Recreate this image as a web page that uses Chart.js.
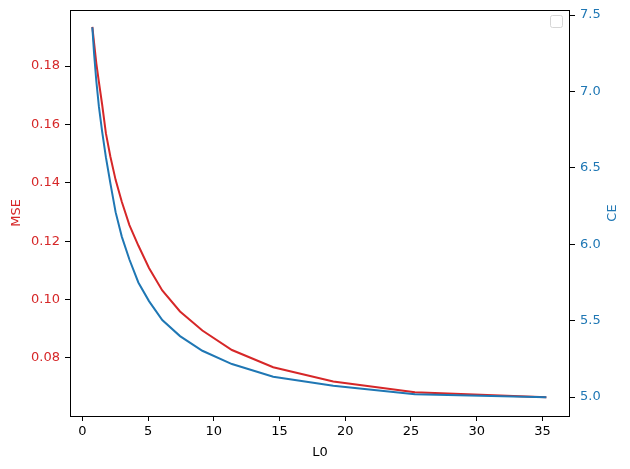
<!DOCTYPE html>
<html>
<head>
<meta charset="utf-8">
<script src="https://cdn.jsdelivr.net/npm/chart.js@4/dist/chart.umd.min.js"></script>
<style>
  html, body { margin: 0; padding: 0; background: #fff; }
  #wrap { width: 630px; height: 469px; position: relative; }
</style>
</head>
<body>
<div id="wrap"><canvas id="c" width="630" height="469"></canvas></div>
<script>
// ---- data ----
const l0Values = [0.76, 0.89, 1.06, 1.26, 1.5, 1.79, 2.13, 2.53, 3.0, 3.58, 4.26, 5.07, 6.08, 7.43, 9.13, 11.38, 14.52, 19.09, 25.3, 35.3];
const mseValues = [0.1934, 0.188, 0.181, 0.1745, 0.167, 0.157, 0.149, 0.141, 0.1335, 0.1255, 0.1185, 0.1108, 0.1031, 0.0959, 0.0894, 0.0827, 0.0768, 0.0719, 0.0682, 0.0665];
const ceValues = [7.42, 7.25, 7.07, 6.90, 6.74, 6.57, 6.40, 6.21, 6.05, 5.90, 5.75, 5.628, 5.504, 5.399, 5.303, 5.216, 5.133, 5.074, 5.018, 4.998];

const xTicks = [0, 5, 10, 15, 20, 25, 30, 35];
const mseTicks = [0.08, 0.10, 0.12, 0.14, 0.16, 0.18];
const ceTicks = [5.0, 5.5, 6.0, 6.5, 7.0, 7.5];

const RED = '#d62728';
const BLUE = '#1f77b4';
const FONT = 'DejaVu Sans';

const msePoints = l0Values.map((x, i) => ({ x: x, y: mseValues[i] }));
const cePoints = l0Values.map((x, i) => ({ x: x, y: ceValues[i] }));

const frame = {
  id: 'frame',
  afterDatasetsDraw(chart) {
    const a = chart.chartArea;
    const ctx = chart.ctx;
    ctx.save();
    ctx.strokeStyle = '#000';
    ctx.lineWidth = 1;
    ctx.strokeRect(Math.round(a.left) + 0.5, Math.round(a.top) + 0.5,
                   Math.round(a.right - a.left) - 1, Math.round(a.bottom - a.top));
    // empty legend frame (matplotlib empty legend)
    const x = a.right - 19.5, y = a.top + 5.5, w = 12, h = 12, r = 2;
    ctx.beginPath();
    ctx.moveTo(x + r, y);
    ctx.lineTo(x + w - r, y); ctx.quadraticCurveTo(x + w, y, x + w, y + r);
    ctx.lineTo(x + w, y + h - r); ctx.quadraticCurveTo(x + w, y + h, x + w - r, y + h);
    ctx.lineTo(x + r, y + h); ctx.quadraticCurveTo(x, y + h, x, y + h - r);
    ctx.lineTo(x, y + r); ctx.quadraticCurveTo(x, y, x + r, y);
    ctx.closePath();
    ctx.fillStyle = 'rgba(255,255,255,0.8)';
    ctx.fill();
    ctx.strokeStyle = '#d6d6d6';
    ctx.stroke();
    // right axis title, rotated like matplotlib (reads bottom to top)
    ctx.translate(613, (a.top + a.bottom) / 2);
    ctx.rotate(-Math.PI / 2);
    ctx.fillStyle = BLUE;
    ctx.font = '13px "' + FONT + '"';
    ctx.textAlign = 'center';
    ctx.textBaseline = 'middle';
    ctx.fillText('CE', 0, 0);
    ctx.restore();
  }
};

function fixedTicks(arr) {
  return function (scale) { scale.ticks = arr.map(v => ({ value: v })); };
}

new Chart(document.getElementById('c'), {
  type: 'line',
  data: {
    datasets: [
      { label: 'MSE', data: msePoints, yAxisID: 'y', borderColor: RED, backgroundColor: RED,
        borderWidth: 2, pointRadius: 0, tension: 0, fill: false, order: 2 },
      { label: 'CE', data: cePoints, yAxisID: 'y1', borderColor: BLUE, backgroundColor: BLUE,
        borderWidth: 2, pointRadius: 0, tension: 0, fill: false, order: 1 }
    ]
  },
  options: {
    responsive: false,
    animation: false,
    devicePixelRatio: 1,
    layout: { padding: { top: 10, left: 0, right: 0, bottom: 0 } },
    plugins: { legend: { display: false }, tooltip: { enabled: false } },
    scales: {
      x: {
        type: 'linear', position: 'bottom', min: -0.94, max: 37.1,
        afterBuildTicks: fixedTicks(xTicks),
        afterFit(s) { s.height = 53; s.paddingLeft = 0; s.paddingRight = 0; },
        grid: { display: true, drawOnChartArea: false, drawTicks: true, tickLength: 5, tickColor: '#000', tickWidth: 1 },
        border: { display: false },
        ticks: { color: '#000', font: { family: FONT, size: 13 }, padding: 3, maxRotation: 0,
                 callback: v => String(v) },
        title: { display: true, text: 'L0', color: '#000', font: { family: FONT, size: 13 },
                 padding: { top: 0, bottom: 9 } }
      },
      y: {
        type: 'linear', position: 'left', min: 0.0601, max: 0.1992,
        afterBuildTicks: fixedTicks(mseTicks),
        afterFit(s) { s.width = 70; s.paddingTop = 0; s.paddingBottom = 0; },
        grid: { display: true, drawOnChartArea: false, drawTicks: true, tickLength: 5, tickColor: '#000', tickWidth: 1 },
        border: { display: false },
        ticks: { color: RED, font: { family: FONT, size: 13 }, padding: 5,
                 callback: v => v.toFixed(2) },
        title: { display: true, text: 'MSE', color: RED, font: { family: FONT, size: 13 },
                 padding: { top: 9, bottom: 0 } }
      },
      y1: {
        type: 'linear', position: 'right', min: 4.876, max: 7.533,
        afterBuildTicks: fixedTicks(ceTicks),
        afterFit(s) { s.width = 60; s.paddingTop = 0; s.paddingBottom = 0; },
        grid: { display: true, drawOnChartArea: false, drawTicks: true, tickLength: 5, tickColor: '#000', tickWidth: 1 },
        border: { display: false },
        ticks: { color: BLUE, font: { family: FONT, size: 13 }, padding: 5,
                 callback: v => v.toFixed(1) },
        title: { display: false, text: 'CE' }
      }
    }
  },
  plugins: [frame]
});
</script>
</body>
</html>
